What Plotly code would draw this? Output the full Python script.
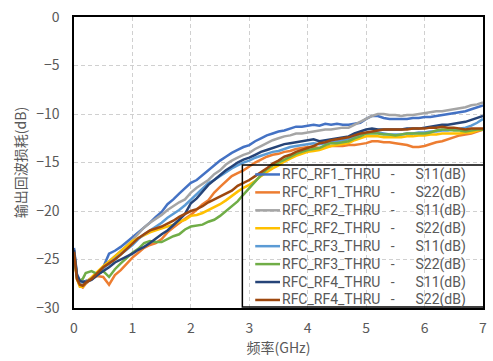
import plotly.graph_objects as go

# Frequency sweep points (GHz)
freq = [0, 0.05, 0.1, 0.15, 0.2] + [round(0.3 + 0.1 * i, 1) for i in range(68)]

# Return loss traces (dB), one list per port/measurement
rf1_s11 = [-23.8, -26.5, -27.2, -27.3, -27.2, -27.0, -26.5, -25.8, -24.4, -24.1, -23.7, -23.2, -22.7, -22.2,
           -21.7, -21.2, -20.6, -20.1, -19.3, -18.8, -18.2, -17.7, -17.1, -16.8, -16.3, -15.7, -15.2, -14.8,
           -14.4, -14.0, -13.7, -13.4, -13.2, -12.8, -12.5, -12.2, -12.0, -11.8, -11.7, -11.5, -11.3, -11.3,
           -11.2, -11.1, -11.2, -11.0, -11.1, -11.0, -11.1, -11.1, -11.0, -10.9, -10.5, -10.2, -10.2, -10.4,
           -10.5, -10.5, -10.5, -10.5, -10.4, -10.4, -10.3, -10.3, -10.2, -10.1, -10.0, -9.9, -9.8, -9.7,
           -9.5, -9.3, -9.1]
rf1_s22 = [-24.5, -27.0, -27.7, -27.9, -27.5, -27.0, -26.7, -26.8, -27.6, -26.6, -26.1, -25.4, -24.8, -24.3,
           -23.8, -23.5, -23.3, -22.9, -22.2, -21.7, -21.2, -20.8, -20.4, -19.8, -19.3, -18.9, -18.1, -17.5,
           -16.9, -16.4, -16.1, -15.8, -15.4, -15.0, -14.7, -14.4, -14.2, -14.1, -13.9, -13.8, -13.6, -13.5,
           -13.4, -13.4, -13.5, -13.4, -13.3, -13.3, -13.3, -13.2, -13.2, -13.1, -13.0, -12.8, -12.8, -12.9,
           -12.9, -13.0, -13.1, -13.2, -13.4, -13.4, -13.3, -13.1, -12.9, -12.8, -12.6, -12.4, -12.2, -12.1,
           -12.0, -11.8, -11.6]
rf2_s11 = [-24.0, -26.8, -27.4, -27.5, -27.3, -26.9, -26.4, -25.9, -25.2, -24.7, -24.2, -23.6, -23.0, -22.3,
           -21.7, -21.2, -20.8, -20.4, -19.9, -19.5, -19.1, -18.8, -18.1, -17.6, -17.2, -16.8, -16.2, -15.8,
           -15.2, -14.8, -14.5, -14.2, -14.0, -13.6, -13.3, -13.0, -12.7, -12.5, -12.3, -12.2, -12.0, -12.0,
           -11.9, -11.8, -11.7, -11.6, -11.6, -11.5, -11.4, -11.4, -11.1, -10.8, -10.5, -10.2, -10.0, -10.0,
           -10.1, -10.1, -10.2, -10.1, -10.1, -10.0, -9.9, -9.8, -9.7, -9.7, -9.6, -9.5, -9.4, -9.3,
           -9.1, -9.0, -8.8]
rf2_s22 = [-24.3, -27.0, -27.8, -27.8, -27.4, -26.8, -26.2, -25.7, -25.2, -24.7, -24.2, -23.7, -23.1, -22.8,
           -22.5, -22.2, -22.0, -21.8, -21.6, -21.4, -21.1, -20.9, -20.5, -20.4, -20.2, -19.9, -19.6, -19.3,
           -18.9, -18.4, -18.0, -17.6, -17.3, -16.9, -16.4, -16.0, -15.6, -15.3, -14.9, -14.6, -14.3, -14.1,
           -13.9, -13.8, -13.7, -13.5, -13.3, -13.2, -13.1, -13.0, -12.7, -12.5, -12.3, -12.3, -12.3, -12.4,
           -12.4, -12.4, -12.4, -12.3, -12.3, -12.2, -12.2, -12.1, -12.1, -12.0, -12.0, -12.0, -12.0, -11.9,
           -11.9, -11.7, -11.6]
rf3_s11 = [-24.2, -26.8, -27.2, -27.3, -27.4, -27.0, -26.6, -25.9, -25.4, -24.9, -24.4, -23.9, -23.5, -22.9,
           -22.4, -22.0, -21.6, -21.2, -20.7, -20.3, -19.9, -19.4, -18.8, -18.3, -17.7, -17.1, -16.8, -16.4,
           -16.0, -15.6, -15.3, -15.0, -14.8, -14.5, -14.3, -14.1, -13.9, -13.8, -13.6, -13.4, -13.3, -13.2,
           -13.1, -13.0, -13.1, -13.0, -12.9, -12.8, -12.7, -12.6, -12.3, -12.1, -12.0, -11.9, -11.9, -12.0,
           -12.1, -12.1, -12.1, -12.0, -12.0, -11.9, -11.9, -11.8, -11.8, -11.7, -11.7, -11.6, -11.5, -11.4,
           -11.2, -10.9, -10.5]
rf3_s22 = [-24.5, -26.8, -27.2, -27.0, -26.4, -26.2, -26.5, -26.2, -26.8, -26.0, -25.4, -24.8, -24.3, -23.9,
           -23.3, -23.1, -23.2, -23.2, -22.9, -22.6, -22.4, -21.9, -21.6, -21.5, -21.4, -21.1, -20.9, -20.5,
           -20.0, -19.5, -19.0, -18.3, -17.6, -16.9, -16.3, -15.7, -15.3, -15.0, -14.7, -14.4, -14.1, -13.9,
           -13.7, -13.6, -13.5, -13.2, -13.0, -13.0, -12.9, -12.8, -12.5, -12.3, -12.0, -12.0, -12.0, -12.1,
           -12.1, -12.2, -12.1, -12.0, -12.0, -12.0, -12.0, -11.9, -11.7, -11.6, -11.6, -11.7, -11.7, -11.8,
           -11.7, -11.6, -11.6]
rf4_s11 = [-24.0, -26.6, -27.2, -27.3, -27.3, -27.1, -26.6, -26.2, -25.8, -25.3, -25.0, -24.7, -24.4, -24.0,
           -23.7, -23.3, -22.8, -22.4, -22.0, -21.5, -20.9, -20.3, -19.2, -18.7, -18.0, -17.3, -16.8, -16.3,
           -15.8, -15.4, -15.0, -14.7, -14.5, -14.2, -13.9, -13.7, -13.5, -13.3, -13.1, -13.0, -12.9, -12.8,
           -12.7, -12.6, -12.8, -12.7, -12.6, -12.5, -12.4, -12.3, -12.0, -11.8, -11.6, -11.5, -11.6, -11.6,
           -11.6, -11.6, -11.6, -11.5, -11.5, -11.5, -11.4, -11.3, -11.2, -11.1, -11.1, -11.0, -10.9, -10.8,
           -10.6, -10.4, -10.2]
rf4_s22 = [-24.2, -27.0, -27.6, -27.7, -27.4, -27.0, -26.4, -25.8, -25.4, -25.0, -24.5, -23.9, -23.3, -22.8,
           -22.4, -22.0, -21.8, -21.6, -21.3, -21.0, -20.6, -20.3, -20.0, -19.8, -19.5, -19.1, -18.8, -18.5,
           -18.2, -17.9, -17.4, -17.1, -16.8, -16.4, -16.0, -15.6, -15.1, -14.8, -14.4, -14.2, -13.9, -13.7,
           -13.5, -13.3, -13.0, -12.9, -12.7, -12.6, -12.5, -12.4, -12.2, -12.0, -11.9, -11.8, -11.7, -11.6,
           -11.6, -11.6, -11.6, -11.6, -11.5, -11.5, -11.5, -11.4, -11.4, -11.3, -11.4, -11.4, -11.5, -11.6,
           -11.5, -11.5, -11.5]

sp = "\u00a0"
series_names = [
    f"RFC_RF1_THRU{sp*3}-{sp*6}S11(dB)",
    f"RFC_RF1_THRU{sp*3}-{sp*6}S22(dB)",
    f"RFC_RF2_THRU{sp*3}-{sp*6}S11(dB)",
    f"RFC_RF2_THRU{sp*3}-{sp*6}S22(dB)",
    f"RFC_RF3_THRU{sp*3}-{sp*6}S11(dB)",
    f"RFC_RF3_THRU{sp*3}-{sp*6}S22(dB)",
    f"RFC_RF4_THRU{sp*3}-{sp*6}S11(dB)",
    f"RFC_RF4_THRU{sp*3}-{sp*6}S22(dB)",
]
series_values = [rf1_s11, rf1_s22, rf2_s11, rf2_s22, rf3_s11, rf3_s22, rf4_s11, rf4_s22]
series_colors = ["#4472C4", "#ED7D31", "#A5A5A5", "#FFC000", "#5B9BD5", "#70AD47", "#264478", "#9E480E"]

x_ticks = [0, 1, 2, 3, 4, 5, 6, 7]
y_ticks = [0, -5, -10, -15, -20, -25, -30]

FONT = "Noto Sans CJK SC"
LEGEND_FONT = "Roboto"
TXT = "#595959"
W, H = 493, 361
ML, MR, MT, MB = 74, 6, 11, 53
PW, PH = W - ML - MR, H - MT - MB

fig = go.Figure()
for name, vals, col in zip(series_names, series_values, series_colors):
    fig.add_trace(go.Scatter(x=freq, y=vals, mode="lines", name=name, showlegend=False,
                             line=dict(color=col, width=2.5)))


# Compact legend block (tighter row pitch than the built-in legend allows),
# placed in plot-area (paper) coordinates from a pixel layout.
def px_x(p):
    return (p - ML) / PW


def px_y(p):
    return (H - MB - p) / PH


LEG_LEFT, LEG_RIGHT, LEG_TOP, LEG_BOTTOM = 244, 488, 162, 307
ROW0, ROW_STEP = 171.7, 18.3
SAMPLE_X0, SAMPLE_X1, TEXT_X = 257, 282, 283

shapes = [dict(type="rect", xref="paper", yref="paper",
               x0=px_x(LEG_LEFT), x1=px_x(LEG_RIGHT), y0=px_y(LEG_BOTTOM), y1=px_y(LEG_TOP),
               line=dict(color="black", width=1.5), fillcolor="rgba(0,0,0,0)", layer="above")]
annotations = []
for i, (name, col) in enumerate(zip(series_names, series_colors)):
    ry = px_y(ROW0 + i * ROW_STEP)
    shapes.append(dict(type="line", xref="paper", yref="paper",
                       x0=px_x(SAMPLE_X0), x1=px_x(SAMPLE_X1), y0=ry, y1=ry,
                       line=dict(color=col, width=2.5), layer="above"))
    annotations.append(dict(xref="paper", yref="paper", x=px_x(TEXT_X), y=ry,
                            xanchor="left", yanchor="middle", showarrow=False, text=name,
                            borderpad=0, valign="middle",
                            font=dict(family=LEGEND_FONT, size=14, color=TXT)))

axis_common = dict(
    showline=True, linecolor="black", linewidth=1.5, mirror=True,
    showgrid=True, gridcolor="#D0D0D0", gridwidth=1, griddash="4px,3px",
    zeroline=False, ticks="", ticklabeloverflow="allow",
    tickfont=dict(family=FONT, size=14, color=TXT),
)

fig.update_layout(
    width=W, height=H,
    margin=dict(l=ML, r=MR, t=MT, b=MB),
    paper_bgcolor="white", plot_bgcolor="white",
    font=dict(family=FONT, size=14, color=TXT),
    xaxis=dict(range=[0, 7], tickvals=x_ticks, ticklabelstandoff=6,
               title=dict(text="频率(GHz)", font=dict(family=FONT, size=14, color=TXT), standoff=4),
               **axis_common),
    yaxis=dict(range=[-30, 0.01], tickvals=y_ticks, ticklabelstandoff=10,
               title=dict(text="输出回波损耗(dB)", font=dict(family=FONT, size=14, color=TXT), standoff=6),
               **axis_common),
    shapes=shapes,
    annotations=annotations,
)

fig.write_html("out.html")
